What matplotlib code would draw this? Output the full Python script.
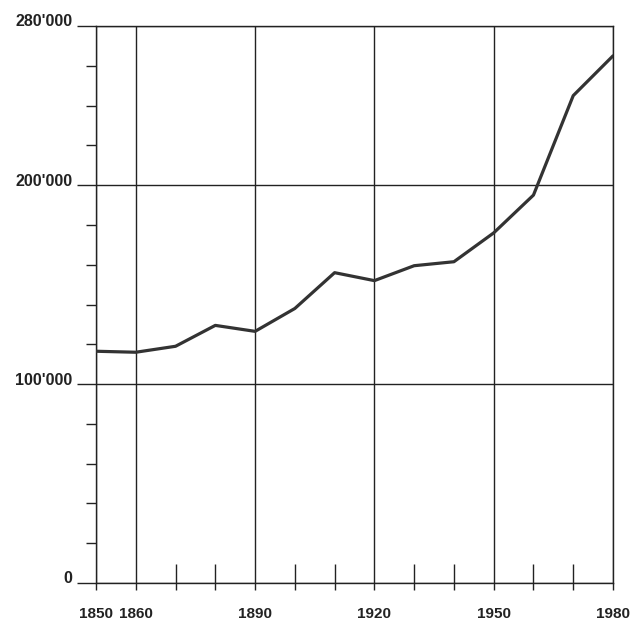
import matplotlib.pyplot as plt
import matplotlib.transforms as mtransforms

# population values
years = [1850, 1860, 1870, 1880, 1890, 1900, 1910, 1920, 1930, 1940, 1950, 1960, 1970, 1980]
population = [116500, 116000, 119000, 129500, 126500, 138000, 156000, 152000,
              159500, 161500, 176000, 195000, 245000, 265000]

year_labels = [1850, 1860, 1890, 1920, 1950, 1980]
other_years = [1870, 1880, 1900, 1910, 1930, 1940, 1960, 1970]
pop_labels = [0, 100000, 200000, 280000]
pop_minor = [20000, 40000, 60000, 80000, 120000, 140000, 160000, 180000, 220000, 240000, 260000]

ink = '#222222'
plt.rcParams['font.family'] = ['Liberation Sans', 'DejaVu Sans']

fig = plt.figure(figsize=(6.32, 6.22), dpi=100)
ax = fig.add_axes([96 / 632, 39 / 622, 517 / 632, 557 / 622])

ax.plot(years, population, color='#333333', lw=2.3, solid_capstyle='round',
        solid_joinstyle='round', zorder=3)

ax.set_xlim(1850, 1980)
ax.set_ylim(0, 280000)

# x axis: labelled years with grid lines, other decades with short upward ticks
ax.set_xticks(year_labels)
ax.set_xticklabels([str(y) for y in year_labels])
ax.set_xticks(other_years, minor=True)
ax.tick_params(axis='x', which='major', direction='out', length=5, width=1, color=ink,
               pad=12, labelsize=11, labelcolor=ink)
ax.tick_params(axis='x', which='minor', direction='in', length=14, width=1, color=ink)
sec = ax.secondary_xaxis('bottom')
sec.set_xticks(other_years)
sec.tick_params(direction='out', length=5, width=1, color=ink, labelbottom=False)
sec.spines['bottom'].set_visible(False)

# y axis
ax.set_yticks(pop_labels)
ax.set_yticklabels(["{:,}".format(v).replace(',', "'") for v in pop_labels])
ax.set_yticks(pop_minor, minor=True)
ax.tick_params(axis='y', which='major', direction='out', length=14, width=1, color=ink,
               pad=3, labelsize=11.5, labelcolor=ink)
ax.tick_params(axis='y', which='minor', direction='out', length=7, width=1, color=ink)
shift = mtransforms.ScaledTranslation(0, 4 / 72, fig.dpi_scale_trans)
for lab in ax.get_yticklabels():
    lab.set_transform(lab.get_transform() + shift)
    lab.set_fontweight('bold')
for lab in ax.get_xticklabels():
    lab.set_fontweight('bold')

ax.grid(True, which='major', color=ink, lw=1.0)
for sp in ax.spines.values():
    sp.set_color(ink)
    sp.set_linewidth(1.0)

fig.savefig('out.png', dpi=100, facecolor='white')
